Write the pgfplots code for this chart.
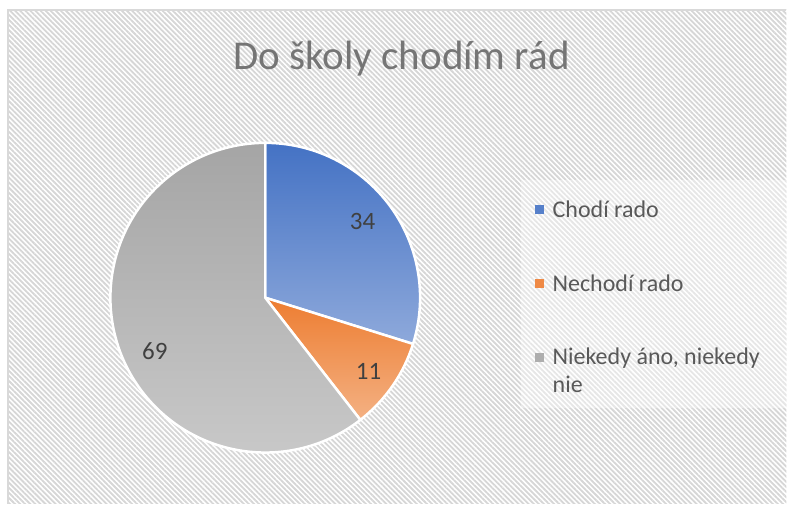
\documentclass[border=0pt]{standalone}
\usepackage{fontspec}
\setmainfont{Carlito}
\usepackage{pgfplots}
\usepackage{pgfplotstable}
\pgfplotsset{compat=1.18}
\usetikzlibrary{patterns.meta}

\definecolor{blueTop}{HTML}{4472C4}
\definecolor{blueBot}{HTML}{8EA9DB}
\definecolor{orTop}{HTML}{ED7D31}
\definecolor{orBot}{HTML}{F4B183}
\definecolor{grTop}{HTML}{A5A5A5}
\definecolor{grBot}{HTML}{CACACA}
\definecolor{hatch}{HTML}{D6D6D6}
\definecolor{framegray}{HTML}{D9D9D9}
\definecolor{titlegray}{HTML}{757575}
\definecolor{legtext}{HTML}{595959}
\definecolor{labtext}{HTML}{404040}

% hodnoty kolaca
\pgfplotstableread{
value
34
11
69
}\piedata
\pgfplotstablegetelem{0}{value}\of\piedata \let\va\pgfplotsretval
\pgfplotstablegetelem{1}{value}\of\piedata \let\vb\pgfplotsretval
\pgfplotstablegetelem{2}{value}\of\piedata \let\vc\pgfplotsretval
\pgfmathsetmacro\tot{\va+\vb+\vc}
\pgfmathsetmacro\aA{90-360*\va/\tot}
\pgfmathsetmacro\aB{\aA-360*\vb/\tot}

\begin{document}
\begin{tikzpicture}
\begin{axis}[
    x=1pt, y=1pt,
    xmin=0, xmax=787, ymin=0, ymax=504,
    hide axis, clip=false,
]
% pozadie
\fill[white] (axis cs:0,0) rectangle (axis cs:787,504);
\fill[pattern={Lines[angle=-45,distance=3.6pt,line width=1.8pt]}, pattern color=hatch]
    (axis cs:8,0) rectangle (axis cs:787,494);
\draw[framegray, line width=1.5pt] (axis cs:8,0) -- (axis cs:8,494) -- (axis cs:787,494);

% nadpis
\node[anchor=base, text=titlegray, font=\fontsize{41}{48}\selectfont]
    at (axis cs:402,434) {Do školy chodím rád};

% kolac
\shadedraw[top color=blueTop, bottom color=blueBot, draw=white, line width=2.5pt, line join=round]
    (axis cs:265.5,206) -- ++(90:155pt) arc[start angle=90, end angle=\aA, radius=155pt] -- cycle;
\shadedraw[top color=orTop, bottom color=orBot, draw=white, line width=2.5pt, line join=round]
    (axis cs:265.5,206) -- ++(\aA:155pt) arc[start angle=\aA, end angle=\aB, radius=155pt] -- cycle;
\shadedraw[top color=grTop, bottom color=grBot, draw=white, line width=2.5pt, line join=round]
    (axis cs:265.5,206) -- ++(\aB:155pt) arc[start angle=\aB, end angle=-270, radius=155pt] -- cycle;

% popisky
\node[text=labtext, font=\fontsize{25}{28}\selectfont] at (axis cs:363,282) {\va};
\node[text=labtext, font=\fontsize{25}{28}\selectfont] at (axis cs:369,132) {\vb};
\node[text=labtext, font=\fontsize{25}{28}\selectfont] at (axis cs:155,152) {\vc};

% legenda
\fill[white, opacity=0.4] (axis cs:521,96) rectangle (axis cs:787,324);
\fill[blueTop!75!blueBot] (axis cs:536,289.5) rectangle (axis cs:545,298.5);
\fill[orTop!75!orBot] (axis cs:536,215.5) rectangle (axis cs:545,224.5);
\fill[grTop!75!grBot] (axis cs:536,141.5) rectangle (axis cs:545,150.5);
\node[anchor=base west, inner sep=0pt, text=legtext, font=\fontsize{24}{28}\selectfont]
    at (axis cs:553,286) {Chodí rado};
\node[anchor=base west, inner sep=0pt, text=legtext, font=\fontsize{24}{28}\selectfont]
    at (axis cs:553,212) {Nechodí rado};
\node[anchor=base west, inner sep=0pt, text=legtext, font=\fontsize{24}{28}\selectfont]
    at (axis cs:553,139) {Niekedy áno, niekedy};
\node[anchor=base west, inner sep=0pt, text=legtext, font=\fontsize{24}{28}\selectfont]
    at (axis cs:553,111) {nie};
\end{axis}
\end{tikzpicture}
\end{document}
